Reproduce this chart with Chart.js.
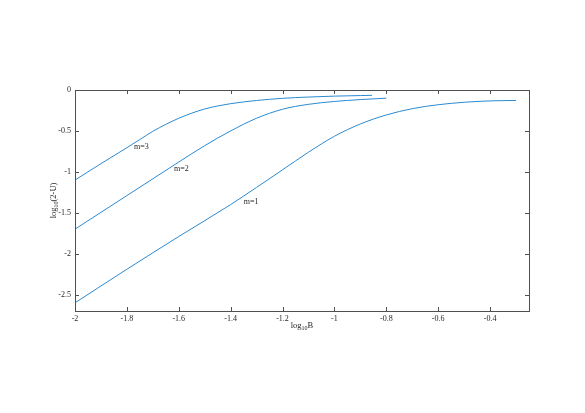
<!DOCTYPE html>
<html>
<head>
<meta charset="utf-8">
<script src="https://cdn.jsdelivr.net/npm/chart.js@4/dist/chart.umd.min.js"></script>
<style>
html,body{margin:0;padding:0;background:#fff;}
#wrap{width:585px;height:413px;position:relative;}
</style>
</head>
<body>
<div id="wrap"><canvas id="c" width="585" height="413"></canvas></div>
<script>
// ---- data ----
const m1X = [-2.0, -1.8, -1.6, -1.4, -1.3, -1.2, -1.1, -1.0, -0.9, -0.8, -0.7, -0.6, -0.5, -0.4, -0.3];
const m1Y = [-2.60, -2.19, -1.79, -1.40, -1.19, -0.975, -0.76, -0.565, -0.415, -0.305, -0.228, -0.18, -0.15, -0.133, -0.128];
const m2X = [-2.0, -1.8, -1.7, -1.6, -1.5, -1.4, -1.3, -1.2, -1.1, -1.0, -0.9, -0.8];
const m2Y = [-1.70, -1.29, -1.085, -0.88, -0.68, -0.50, -0.345, -0.235, -0.175, -0.14, -0.117, -0.10];
const m3X = [-2.0, -1.9, -1.8, -1.75, -1.7, -1.65, -1.6, -1.55, -1.5, -1.45, -1.4, -1.3, -1.2, -1.1, -1.0, -0.9, -0.855];
const m3Y = [-1.10, -0.90, -0.705, -0.605, -0.505, -0.42, -0.345, -0.283, -0.232, -0.195, -0.167, -0.128, -0.102, -0.086, -0.075, -0.068, -0.065];
const seriesNames = ['m=1', 'm=2', 'm=3'];
const labelX = [-1.321, -1.590, -1.744];
const labelY = [-1.37, -0.967, -0.69];
const xTicks = [-2, -1.8, -1.6, -1.4, -1.2, -1, -0.8, -0.6, -0.4];
const yTicks = [0, -0.5, -1, -1.5, -2, -2.5];
const xMin = -2, xMax = -0.25, yMin = -2.7, yMax = 0;

const lineColor = '#2a8ad2';
const axisColor = '#505050';
const textColor = '#262626';
const FONT = '"Liberation Serif", "DejaVu Serif", serif';

function pts(xs, ys){ return xs.map((x,i)=>({x:x, y:ys[i]})); }

const annot = {
  id: 'annot',
  afterDraw(chart){
    const ctx = chart.ctx, a = chart.chartArea;
    const xs = chart.scales.x, ys = chart.scales.y;
    ctx.save();
    // box
    ctx.strokeStyle = axisColor; ctx.lineWidth = 1;
    ctx.strokeRect(Math.round(a.left)+0.5, Math.round(a.top)+0.5, Math.round(a.right-a.left), Math.round(a.bottom-a.top));
    // inward ticks
    const tl = 4;
    ctx.beginPath();
    xTicks.forEach(v=>{
      const p = Math.round(xs.getPixelForValue(v))+0.5;
      ctx.moveTo(p, a.bottom); ctx.lineTo(p, a.bottom - tl);
      ctx.moveTo(p, a.top); ctx.lineTo(p, a.top + tl);
    });
    yTicks.forEach(v=>{
      const p = Math.round(ys.getPixelForValue(v))+0.5;
      ctx.moveTo(a.left, p); ctx.lineTo(a.left + tl, p);
      ctx.moveTo(a.right, p); ctx.lineTo(a.right - tl, p);
    });
    ctx.stroke();
    // curve labels
    ctx.fillStyle = textColor;
    ctx.font = '8px ' + FONT;
    ctx.textAlign = 'center'; ctx.textBaseline = 'middle';
    seriesNames.forEach((n,i)=>{
      ctx.fillText(n, xs.getPixelForValue(labelX[i]), ys.getPixelForValue(labelY[i]));
    });
    function subText(parts, x, y){
      let w = 0;
      parts.forEach(p=>{ ctx.font = (p[1]?'6px ':'8.5px ') + FONT; w += ctx.measureText(p[0]).width; });
      let cx = x - w/2;
      ctx.textAlign = 'left';
      parts.forEach(p=>{
        ctx.font = (p[1]?'6px ':'8.5px ') + FONT;
        ctx.fillText(p[0], cx, y + (p[1]?2.5:0));
        cx += ctx.measureText(p[0]).width;
      });
    }
    ctx.textBaseline = 'middle';
    subText([['log',false],['10',true],['B',false]], (a.left+a.right)/2, a.bottom + 15);
    ctx.save();
    ctx.translate(a.left - 21, (a.top+a.bottom)/2);
    ctx.rotate(-Math.PI/2);
    subText([['log',false],['10',true],['(2-U)',false]], 0, 0);
    ctx.restore();
    ctx.restore();
  }
};

const mk = (xs, ys, name) => ({
  label: name, data: pts(xs, ys), borderColor: lineColor, borderWidth: 1,
  pointRadius: 0, showLine: true, fill: false, cubicInterpolationMode: 'monotone'
});

new Chart(document.getElementById('c'), {
  type: 'scatter',
  data: { datasets: [ mk(m1X, m1Y, seriesNames[0]), mk(m2X, m2Y, seriesNames[1]), mk(m3X, m3Y, seriesNames[2]) ] },
  options: {
    responsive: false, animation: false, devicePixelRatio: 1,
    layout: { padding: { left: 0, top: 90, right: 56, bottom: 72 } },
    plugins: { legend: { display: false }, tooltip: { enabled: false } },
    scales: {
      x: {
        type: 'linear', min: xMin, max: xMax,
        afterBuildTicks: s => { s.ticks = xTicks.map(v=>({value:v})); },
        afterFit: s => { s.height = 30; },
        grid: { display: false, drawTicks: false, tickLength: 0 }, border: { display: false },
        ticks: { color: textColor, font: { family: FONT, size: 8 }, padding: 3,
                 maxRotation: 0, autoSkip: false, callback: v => String(Math.round(v*10)/10) }
      },
      y: {
        type: 'linear', min: yMin, max: yMax,
        afterBuildTicks: s => { s.ticks = yTicks.map(v=>({value:v})); },
        afterFit: s => { s.width = 75; },
        grid: { display: false, drawTicks: false, tickLength: 0 }, border: { display: false },
        ticks: { color: textColor, font: { family: FONT, size: 8 }, padding: 4,
                 autoSkip: false, callback: v => String(Math.round(v*10)/10) }
      }
    }
  },
  plugins: [annot]
});
</script>
</body>
</html>
